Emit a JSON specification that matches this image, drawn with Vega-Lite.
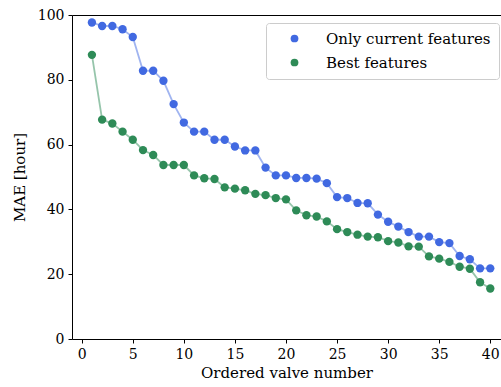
{
  "$schema": "https://vega.github.io/schema/vega-lite/v6.json",
  "autosize": "none",
  "padding": {"left": 72, "top": 15, "right": 0, "bottom": 48},
  "width": 429,
  "height": 324,
  "background": "white",
  "config": {
    "view": {"stroke": null},
    "font": "DejaVu Serif",
    "axis": {
      "labelFont": "DejaVu Serif",
      "titleFont": "DejaVu Serif",
      "labelFontSize": 14,
      "titleFontSize": 15,
      "titleFontWeight": "normal",
      "labelColor": "#000",
      "titleColor": "#000",
      "domainColor": "#000",
      "tickColor": "#000",
      "domainWidth": 1,
      "tickWidth": 1,
      "tickSize": 4,
      "grid": false
    }
  },
  "data": {
    "values": [
      {"x": 1, "series": "Only current features", "mae": 97.7},
      {"x": 2, "series": "Only current features", "mae": 96.6},
      {"x": 3, "series": "Only current features", "mae": 96.6},
      {"x": 4, "series": "Only current features", "mae": 95.6},
      {"x": 5, "series": "Only current features", "mae": 93.2},
      {"x": 6, "series": "Only current features", "mae": 82.8},
      {"x": 7, "series": "Only current features", "mae": 82.8},
      {"x": 8, "series": "Only current features", "mae": 79.7},
      {"x": 9, "series": "Only current features", "mae": 72.5},
      {"x": 10, "series": "Only current features", "mae": 66.8},
      {"x": 11, "series": "Only current features", "mae": 64.0},
      {"x": 12, "series": "Only current features", "mae": 64.0},
      {"x": 13, "series": "Only current features", "mae": 61.5},
      {"x": 14, "series": "Only current features", "mae": 61.5},
      {"x": 15, "series": "Only current features", "mae": 59.4},
      {"x": 16, "series": "Only current features", "mae": 58.2},
      {"x": 17, "series": "Only current features", "mae": 58.2},
      {"x": 18, "series": "Only current features", "mae": 52.9},
      {"x": 19, "series": "Only current features", "mae": 50.5},
      {"x": 20, "series": "Only current features", "mae": 50.5},
      {"x": 21, "series": "Only current features", "mae": 49.7},
      {"x": 22, "series": "Only current features", "mae": 49.7},
      {"x": 23, "series": "Only current features", "mae": 49.5},
      {"x": 24, "series": "Only current features", "mae": 48.1},
      {"x": 25, "series": "Only current features", "mae": 43.8},
      {"x": 26, "series": "Only current features", "mae": 43.5},
      {"x": 27, "series": "Only current features", "mae": 42.0},
      {"x": 28, "series": "Only current features", "mae": 41.9},
      {"x": 29, "series": "Only current features", "mae": 38.4},
      {"x": 30, "series": "Only current features", "mae": 36.2},
      {"x": 31, "series": "Only current features", "mae": 34.7},
      {"x": 32, "series": "Only current features", "mae": 33.0},
      {"x": 33, "series": "Only current features", "mae": 31.6},
      {"x": 34, "series": "Only current features", "mae": 31.6},
      {"x": 35, "series": "Only current features", "mae": 29.9},
      {"x": 36, "series": "Only current features", "mae": 29.6},
      {"x": 37, "series": "Only current features", "mae": 25.6},
      {"x": 38, "series": "Only current features", "mae": 24.6},
      {"x": 39, "series": "Only current features", "mae": 21.8},
      {"x": 40, "series": "Only current features", "mae": 21.8},
      {"x": 1, "series": "Best features", "mae": 87.7},
      {"x": 2, "series": "Best features", "mae": 67.7},
      {"x": 3, "series": "Best features", "mae": 66.5},
      {"x": 4, "series": "Best features", "mae": 64.0},
      {"x": 5, "series": "Best features", "mae": 61.5},
      {"x": 6, "series": "Best features", "mae": 58.3},
      {"x": 7, "series": "Best features", "mae": 56.8},
      {"x": 8, "series": "Best features", "mae": 53.7},
      {"x": 9, "series": "Best features", "mae": 53.7},
      {"x": 10, "series": "Best features", "mae": 53.7},
      {"x": 11, "series": "Best features", "mae": 50.5},
      {"x": 12, "series": "Best features", "mae": 49.6},
      {"x": 13, "series": "Best features", "mae": 49.4},
      {"x": 14, "series": "Best features", "mae": 46.8},
      {"x": 15, "series": "Best features", "mae": 46.4},
      {"x": 16, "series": "Best features", "mae": 45.9},
      {"x": 17, "series": "Best features", "mae": 44.8},
      {"x": 18, "series": "Best features", "mae": 44.4},
      {"x": 19, "series": "Best features", "mae": 43.5},
      {"x": 20, "series": "Best features", "mae": 43.1},
      {"x": 21, "series": "Best features", "mae": 39.7},
      {"x": 22, "series": "Best features", "mae": 38.2},
      {"x": 23, "series": "Best features", "mae": 37.8},
      {"x": 24, "series": "Best features", "mae": 36.3},
      {"x": 25, "series": "Best features", "mae": 33.9},
      {"x": 26, "series": "Best features", "mae": 33.0},
      {"x": 27, "series": "Best features", "mae": 32.2},
      {"x": 28, "series": "Best features", "mae": 31.6},
      {"x": 29, "series": "Best features", "mae": 31.4},
      {"x": 30, "series": "Best features", "mae": 30.2},
      {"x": 31, "series": "Best features", "mae": 29.8},
      {"x": 32, "series": "Best features", "mae": 28.6},
      {"x": 33, "series": "Best features", "mae": 28.5},
      {"x": 34, "series": "Best features", "mae": 25.5},
      {"x": 35, "series": "Best features", "mae": 24.8},
      {"x": 36, "series": "Best features", "mae": 23.8},
      {"x": 37, "series": "Best features", "mae": 22.3},
      {"x": 38, "series": "Best features", "mae": 21.7},
      {"x": 39, "series": "Best features", "mae": 17.5},
      {"x": 40, "series": "Best features", "mae": 15.6}
    ]
  },
  "resolve": {"axis": {"x": "independent"}},
  "layer": [
    {
      "transform": [{"filter": "datum.series === 'Only current features'"}],
      "mark": {"type": "line", "strokeWidth": 1.8, "opacity": 0.5, "color": "#4169E1"},
      "encoding": {
        "x": {
          "field": "x", "type": "quantitative",
          "scale": {"domain": [-0.95, 41.05], "nice": false, "zero": false},
          "axis": {"orient": "top", "title": null, "labels": false, "ticks": false, "domain": true}
        },
        "y": {
          "field": "mae", "type": "quantitative",
          "scale": {"domain": [0, 100], "nice": false}
        }
      }
    },
    {
      "transform": [{"filter": "datum.series === 'Best features'"}],
      "mark": {"type": "line", "strokeWidth": 1.8, "opacity": 0.5, "color": "#2E8B57"},
      "encoding": {
        "x": {
          "field": "x", "type": "quantitative",
          "scale": {"domain": [-0.95, 41.05], "nice": false, "zero": false},
          "axis": null
        },
        "y": {
          "field": "mae", "type": "quantitative",
          "scale": {"domain": [0, 100], "nice": false}
        }
      }
    },
    {
      "mark": {"type": "point", "filled": true, "size": 70, "opacity": 1, "shape": "circle"},
      "encoding": {
        "x": {
          "field": "x", "type": "quantitative",
          "scale": {"domain": [-0.95, 41.05], "nice": false, "zero": false},
          "axis": {"orient": "bottom", "title": "Ordered valve number", "values": [0, 5, 10, 15, 20, 25, 30, 35, 40], "labelFlush": false, "labelPadding": 4, "titlePadding": 4}
        },
        "y": {
          "field": "mae", "type": "quantitative",
          "scale": {"domain": [0, 100], "nice": false},
          "axis": {"title": "MAE [hour]", "values": [0, 20, 40, 60, 80, 100], "labelFlush": false, "labelPadding": 4, "titlePadding": 10}
        },
        "color": {
          "field": "series", "type": "nominal",
          "scale": {"domain": ["Only current features", "Best features"], "range": ["#4169E1", "#2E8B57"]},
          "legend": {
            "title": null,
            "orient": "none",
            "legendX": 194,
            "legendY": 8,
            "padding": 8,
            "symbolOffset": 13,
            "symbolSize": 60,
            "symbolType": "circle",
            "labelFont": "DejaVu Serif",
            "labelFontSize": 15,
            "labelLimit": 300,
            "labelColor": "#000",
            "labelOffset": 24,
            "rowPadding": 8,
            "strokeColor": "#cccccc",
            "cornerRadius": 3,
            "fillColor": "rgba(255,255,255,0.8)"
          }
        }
      }
    }
  ]
}
